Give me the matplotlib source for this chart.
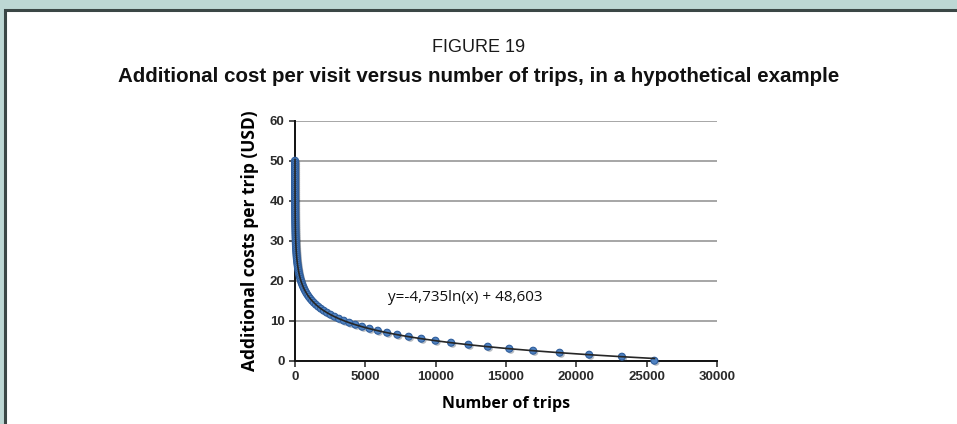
import numpy as np
import matplotlib
matplotlib.use('Agg')
import matplotlib.pyplot as plt
import matplotlib.patheffects as pe
from matplotlib.patches import Rectangle

# cost per trip (USD) and number of trips
cost = [50.0, 49.5, 49.0, 48.5, 48.0, 47.5, 47.0, 46.5, 46.0, 45.5,
        45.0, 44.5, 44.0, 43.5, 43.0, 42.5, 42.0, 41.5, 41.0, 40.5,
        40.0, 39.5, 39.0, 38.5, 38.0, 37.5, 37.0, 36.5, 36.0, 35.5,
        35.0, 34.5, 34.0, 33.5, 33.0, 32.5, 32.0, 31.5, 31.0, 30.5,
        30.0, 29.5, 29.0, 28.5, 28.0, 27.5, 27.0, 26.5, 26.0, 25.5,
        25.0, 24.5, 24.0, 23.5, 23.0, 22.5, 22.0, 21.5, 21.0, 20.5,
        20.0, 19.5, 19.0, 18.5, 18.0, 17.5, 17.0, 16.5, 16.0, 15.5,
        15.0, 14.5, 14.0, 13.5, 13.0, 12.5, 12.0, 11.5, 11.0, 10.5,
        10.0, 9.5, 9.0, 8.5, 8.0, 7.5, 7.0, 6.5, 6.0, 5.5,
        5.0, 4.5, 4.0, 3.5, 3.0, 2.5, 2.0, 1.5, 1.0, 0.0]
trips = [0.7, 0.8, 0.9, 1.0, 1.1, 1.3, 1.4, 1.6, 1.7, 1.9,
         2.1, 2.4, 2.6, 2.9, 3.3, 3.6, 4.0, 4.5, 5.0, 5.5,
         6.2, 6.9, 7.6, 8.5, 9.4, 10, 12, 13, 14, 16,
         18, 20, 22, 24, 27, 30, 33, 37, 41, 46,
         51, 56, 63, 70, 77, 86, 96, 106, 118, 131,
         146, 162, 180, 201, 223, 248, 275, 306, 340, 378,
         420, 467, 519, 577, 641, 713, 792, 880, 978, 1087,
         1208, 1343, 1492, 1659, 1843, 2049, 2277, 2530, 2812, 3125,
         3473, 3860, 4290, 4768, 5299, 5889, 6545, 7274, 8084, 8984,
         9985, 11097, 12333, 13707, 15233, 16930, 18815, 20911, 23240, 25550]

# logarithmic trendline shown on the chart
trend_a = -4.735
trend_b = 48.603
trend_label = 'y=-4,735ln(x) + 48,603'

x_ticks = [0, 5000, 10000, 15000, 20000, 25000, 30000]
y_ticks = [0, 10, 20, 30, 40, 50, 60]

fig = plt.figure(figsize=(9.57, 4.24), dpi=100)
fig.patch.set_facecolor('#bdd7d4')

# white panel with dark frame
fig.patches.append(Rectangle((5 / 957, -0.2), 1.2, 1.2 - 10 / 424,
                             transform=fig.transFigure, facecolor='white',
                             edgecolor='#3b4746', linewidth=2.2, zorder=-5))

fig.text(0.5, 1 - 47 / 424, 'FIGURE 19', ha='center', va='center',
         fontsize=13, family='Liberation Sans', color='#1a1a1a')
fig.text(0.5, 1 - 76 / 424,
         'Additional cost per visit versus number of trips, in a hypothetical example',
         ha='center', va='center', fontsize=14.8, fontweight='bold',
         family='Liberation Sans', color='#111111')

ax = fig.add_axes([295 / 957, 1 - 360.7 / 424, 422 / 957, 240 / 424])
ax.set_zorder(2)
ax.set_facecolor('white')

x = np.array(trips, dtype=float)
trend = trend_a * np.log(x) + trend_b

ax.plot(trips, cost, linestyle='none', marker='o', markersize=5.0,
        markerfacecolor='#4f82c2', markeredgecolor='#2f5e9c', markeredgewidth=0.8,
        clip_on=False, zorder=3,
        path_effects=[pe.SimplePatchShadow(offset=(1.2, -1.2), alpha=0.3), pe.Normal()])
ax.plot(trips, trend, color='#262626', linewidth=1.2, clip_on=False, zorder=4)

ax.set_xlim(0, 30000)
ax.set_ylim(0, 60)
ax.set_xticks(x_ticks)
ax.set_yticks(y_ticks)
ax.yaxis.grid(True, color='#a6a6a6', linewidth=1.4)
ax.set_axisbelow(True)
for s in ['top', 'right']:
    ax.spines[s].set_visible(False)
for s in ['left', 'bottom']:
    ax.spines[s].set_color('#111111')
    ax.spines[s].set_linewidth(1.4)
ax.tick_params(axis='both', direction='out', length=4, width=1.2, color='#333333',
               labelsize=9.5, labelcolor='#2a2a2a')
for lab in ax.get_xticklabels() + ax.get_yticklabels():
    lab.set_fontweight('bold')
    lab.set_family('Liberation Sans')

ax.set_xlabel('Number of trips', fontsize=11.5, fontweight='bold', family='Open Sans',
              labelpad=9)
ax.set_ylabel('Additional costs per trip (USD)', fontsize=12.5, fontweight='bold',
              family='Open Sans', labelpad=8)

ax.text(6600, 15.9, trend_label, fontsize=11, family='Open Sans', va='center',
        ha='left', color='#111111')

fig.savefig('out.png', dpi=100, facecolor=fig.get_facecolor())
